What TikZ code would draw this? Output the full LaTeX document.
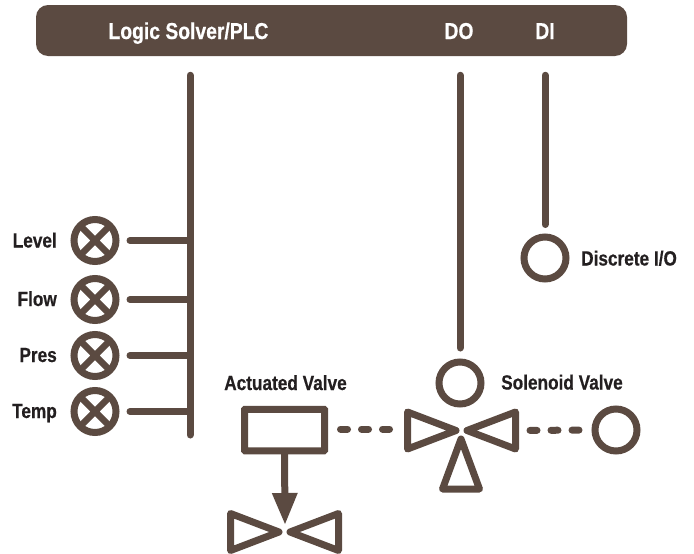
\documentclass[tikz,border=0pt]{standalone}
\usepackage{fontspec}
\setsansfont[FakeStretch=0.84,BoldFeatures={FakeBold=0.5}]{Liberation Sans}
\usetikzlibrary{arrows.meta, positioning, shapes.geometric, calc}
\definecolor{barkbrown}{HTML}{5B4A41}
\definecolor{labelink}{HTML}{231F20}

\begin{document}
\begin{tikzpicture}[
    x=1pt, y=-1pt,
    font=\sffamily\bfseries\fontsize{20.5}{22}\selectfont,
    % Styles
    wire/.style={line width=7pt, color=barkbrown, line cap=round},
    signal/.style={wire, dash pattern=on 7pt off 14pt},
    coil/.style={
        draw=barkbrown, line width=7pt, circle, fill=white,
        minimum size=42pt, inner sep=0pt, outer sep=0pt
    },
    sensor/.style={
        coil,
        path picture={
            \draw[barkbrown, line width=6.5pt]
                (path picture bounding box.north west) -- (path picture bounding box.south east)
                (path picture bounding box.north east) -- (path picture bounding box.south west);
        }
    },
    actuator/.style={
        draw=barkbrown, line width=7pt, rounded corners=0.5pt, fill=white,
        minimum width=80pt, minimum height=41.5pt, inner sep=0pt, outer sep=0pt
    },
    valve/.style={
        draw=barkbrown, line width=7pt, line join=round, fill=white,
        isosceles triangle, isosceles triangle stretches,
        minimum width=37pt, minimum height=48.5pt, inner sep=0pt, outer sep=0pt,
        anchor=apex
    },
    tag/.style={color=labelink, inner sep=0pt},
    plctag/.style={color=white, inner sep=0pt, anchor=base, font=\sffamily\bfseries\fontsize{23}{25}\selectfont}
]
    \useasboundingbox (0,0) rectangle (694,554);

    % --- Logic solver ---
    \node[fill=barkbrown, rounded corners=12pt, minimum width=591pt, minimum height=51pt,
        inner sep=0pt] (plc) at (331.5,30.5) {};
    \node[plctag] (plcname) at (188.5,39) {Logic Solver/PLC};
    \node[plctag] (dotag) at (459,39) {DO};
    \node[plctag] (ditag) at (545,39) {DI};

    % --- Sensors ---
    \node[sensor] (level) at (95,240.5) {};
    \node[sensor, below=17pt of level] (flow) {};
    \node[sensor, below=14pt of flow] (pres) {};
    \node[sensor, below=14pt of pres] (temp) {};

    \node[tag, anchor=base east] (leveltag) at (57,247.5) {Level};
    \node[tag, anchor=base east] (flowtag) at (57,306) {Flow};
    \node[tag, anchor=base east] (prestag) at (57,362) {Pres};
    \node[tag, anchor=base east] (temptag) at (57,418) {Temp};

    % --- Discrete input ---
    \node[coil] (dicoil) at (545,258) {};
    \node[tag, anchor=base west] (ditext) at (581,265.5) {Discrete I/O};

    % --- Actuated valve ---
    \node[actuator] (actbox) at (284.5,430) {};
    \node[tag, anchor=base] (acttag) at (285.5,390) {Actuated Valve};
    \node[valve, shape border rotate=0] (actleft) at (279,532) {};
    \node[valve, shape border rotate=180] (actright) at (290,532) {};

    % --- Solenoid valve ---
    \node[coil] (solcoil) at (460,383) {};
    \node[tag, anchor=base west] (soltag) at (501,389.5) {Solenoid Valve};
    \node[valve, shape border rotate=0] (solleft) at (456,430.5) {};
    \node[valve, shape border rotate=180] (solright) at (467,430.5) {};
    \node[valve, shape border rotate=90, minimum height=50pt] (solbase) at (461,439) {};
    \node[coil] (solreset) at (616,430) {};

    % --- Connections ---
    % Bus and branches
    \coordinate (bustop) at (190,75.25);
    \coordinate (busend) at (190,435);
    \coordinate (dotap) at (460,75.25);
    \coordinate (ditap) at (545,75.25);
    \draw[wire] (bustop) -- (busend);
    \foreach \name in {level, flow, pres, temp} {
        \draw[wire, shorten <=14pt] (\name.east) -- (\name.east -| bustop);
    }
    \draw[wire, shorten >=14pt] (dotap) -- (solcoil.north);
    \draw[wire, shorten >=12.5pt] (ditap) -- (dicoil.north);

    % Valve signals
    \draw[signal, shorten <=16pt, shorten >=18pt, transform canvas={yshift=1.5pt}] (actbox.east |- solleft.lower side) -- (solleft.lower side);
    \draw[signal, shorten <=14.5pt, shorten >=16pt] (solright.lower side) -- (solreset.west);
    \draw[barkbrown, line width=7pt, -{Triangle[length=31pt, width=26pt, line width=0pt, round]}, shorten >=-1pt] (actbox.south) -- (285,523);
\end{tikzpicture}
\end{document}
